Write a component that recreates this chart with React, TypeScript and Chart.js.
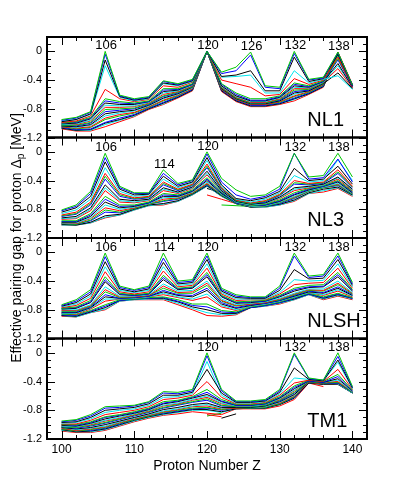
import React, { useEffect, useRef } from 'react';
import { Chart, registerables } from 'chart.js';
Chart.register(...registerables);

// Proton numbers (x values of every curve)
const Z = [100, 102, 104, 106, 108, 110, 112, 114, 116, 118, 120, 122, 124, 126, 128, 130, 132, 134, 136, 138, 140];

const X_TICKS = [100, 110, 120, 130, 140];
const Y_TICKS = [-1.2, -0.8, -0.4, 0];

const PANELS = ['NL1', 'NL3', 'NLSH', 'TM1'];

const NL1_MAGIC = [106, 120, 126, 132, 138];
const NL3_MAGIC = [106, 114, 120, 132, 138];
const NLSH_MAGIC = [106, 114, 120, 132, 138];
const TM1_MAGIC = [120, 132, 138];

const NL1 = [
  [-0.95, -0.92, -0.84, 0.00, -0.61, -0.66, -0.63, -0.41, -0.45, -0.39, 0.00, -0.29, -0.22, -0.01, -0.48, -0.50, 0.00, -0.39, -0.36, -0.01, -0.47],
  [-0.96, -0.93, -0.85, -0.04, -0.62, -0.67, -0.64, -0.42, -0.46, -0.40, 0.00, -0.31, -0.27, -0.05, -0.50, -0.52, -0.03, -0.40, -0.37, -0.02, -0.48],
  [-0.98, -0.95, -0.87, -0.12, -0.63, -0.68, -0.65, -0.44, -0.47, -0.41, 0.00, -0.35, -0.33, -0.27, -0.55, -0.55, -0.08, -0.42, -0.38, -0.04, -0.48],
  [-0.97, -0.95, -0.88, -0.20, -0.64, -0.69, -0.66, -0.45, -0.48, -0.42, 0.00, -0.36, -0.35, -0.33, -0.58, -0.58, -0.27, -0.44, -0.39, -0.34, -0.53],
  [-0.99, -0.97, -0.90, -0.53, -0.66, -0.70, -0.67, -0.48, -0.50, -0.43, 0.00, -0.40, -0.45, -0.50, -0.62, -0.60, -0.38, -0.46, -0.40, -0.08, -0.49],
  [-1.00, -0.98, -0.92, -0.66, -0.70, -0.72, -0.69, -0.52, -0.52, -0.45, 0.00, -0.45, -0.58, -0.66, -0.66, -0.62, -0.44, -0.48, -0.41, -0.10, -0.48],
  [-1.00, -0.99, -0.93, -0.69, -0.72, -0.73, -0.70, -0.54, -0.53, -0.46, 0.00, -0.46, -0.60, -0.68, -0.68, -0.63, -0.46, -0.49, -0.42, -0.12, -0.49],
  [-1.01, -1.00, -0.94, -0.72, -0.74, -0.74, -0.70, -0.56, -0.54, -0.46, 0.00, -0.48, -0.62, -0.69, -0.69, -0.64, -0.48, -0.50, -0.42, -0.17, -0.50],
  [-1.02, -1.01, -0.96, -0.75, -0.76, -0.76, -0.71, -0.58, -0.55, -0.47, 0.00, -0.49, -0.63, -0.70, -0.70, -0.65, -0.50, -0.51, -0.43, -0.20, -0.50],
  [-1.02, -1.02, -0.97, -0.78, -0.78, -0.77, -0.72, -0.60, -0.56, -0.48, 0.00, -0.50, -0.64, -0.71, -0.71, -0.66, -0.52, -0.52, -0.43, -0.24, -0.51],
  [-1.03, -1.03, -0.99, -0.81, -0.80, -0.79, -0.73, -0.62, -0.57, -0.49, 0.00, -0.51, -0.65, -0.72, -0.72, -0.67, -0.54, -0.53, -0.44, -0.04, -0.48],
  [-1.03, -1.04, -1.00, -0.84, -0.82, -0.80, -0.74, -0.63, -0.58, -0.49, 0.00, -0.51, -0.65, -0.72, -0.72, -0.68, -0.56, -0.54, -0.44, -0.03, -0.47],
  [-1.04, -1.05, -1.02, -0.87, -0.84, -0.82, -0.75, -0.65, -0.59, -0.50, 0.00, -0.52, -0.66, -0.73, -0.73, -0.69, -0.58, -0.55, -0.45, -0.30, -0.52],
  [-1.04, -1.06, -1.03, -0.90, -0.86, -0.83, -0.76, -0.66, -0.60, -0.51, 0.00, -0.52, -0.66, -0.73, -0.73, -0.69, -0.60, -0.55, -0.45, -0.05, -0.47],
  [-1.05, -1.07, -1.05, -0.93, -0.88, -0.85, -0.77, -0.68, -0.61, -0.52, 0.00, -0.53, -0.67, -0.74, -0.74, -0.70, -0.62, -0.56, -0.46, -0.02, -0.47],
  [-1.05, -1.08, -1.06, -0.95, -0.90, -0.86, -0.78, -0.69, -0.62, -0.52, 0.00, -0.53, -0.67, -0.74, -0.74, -0.71, -0.63, -0.57, -0.47, -0.06, -0.48],
  [-1.06, -1.09, -1.08, -0.99, -0.93, -0.88, -0.79, -0.71, -0.63, -0.53, 0.00, -0.54, -0.68, -0.75, -0.75, -0.72, -0.65, -0.58, -0.48, -0.02, -0.47],
  [-1.07, -1.10, -1.09, -1.00, -0.95, -0.89, -0.80, -0.72, -0.64, -0.54, 0.00, -0.55, -0.69, -0.76, -0.76, -0.73, -0.66, -0.59, -0.49, -0.04, -0.47],
  [-1.07, -1.10, -1.10, -1.02, -0.96, -0.90, -0.80, -0.73, -0.64, -0.54, 0.00, -0.55, -0.69, -0.76, -0.76, -0.73, -0.67, -0.59, -0.49, -0.03, -0.48],
  [-1.08, -1.11, -1.11, -1.05, -0.98, -0.91, -0.81, -0.74, -0.65, -0.55, 0.00, -0.56, -0.70, -0.77, -0.77, -0.74, -0.69, -0.60, -0.50, -0.01, -0.46],
];

const NL3 = [
  [-0.81, -0.74, -0.55, -0.02, -0.48, -0.57, -0.57, -0.25, -0.44, -0.39, 0.00, -0.37, -0.53, -0.62, -0.60, -0.48, -0.02, -0.35, -0.33, -0.02, -0.35],
  [-0.82, -0.76, -0.58, -0.08, -0.50, -0.58, -0.58, -0.30, -0.46, -0.40, -0.03, -0.42, -0.60, -0.66, -0.62, -0.52, -0.02, -0.38, -0.36, -0.10, -0.42],
  [-0.84, -0.78, -0.62, -0.14, -0.52, -0.60, -0.59, -0.34, -0.48, -0.42, -0.08, -0.46, -0.65, -0.68, -0.64, -0.55, -0.23, -0.40, -0.38, -0.20, -0.45],
  [-0.86, -0.81, -0.66, -0.22, -0.55, -0.62, -0.60, -0.38, -0.50, -0.43, -0.12, -0.48, -0.66, -0.70, -0.66, -0.57, -0.33, -0.42, -0.40, -0.11, -0.40],
  [-0.88, -0.84, -0.70, -0.30, -0.58, -0.64, -0.62, -0.42, -0.52, -0.45, -0.17, -0.50, -0.67, -0.71, -0.68, -0.59, -0.40, -0.44, -0.42, -0.25, -0.48],
  [-0.89, -0.86, -0.72, -0.34, -0.60, -0.65, -0.63, -0.44, -0.53, -0.46, -0.20, -0.51, -0.68, -0.72, -0.69, -0.60, -0.43, -0.45, -0.43, -0.28, -0.49],
  [-0.90, -0.87, -0.74, -0.38, -0.62, -0.66, -0.64, -0.46, -0.54, -0.47, -0.22, -0.52, -0.68, -0.72, -0.70, -0.61, -0.45, -0.46, -0.44, -0.30, -0.50],
  [-0.92, -0.90, -0.78, -0.46, -0.66, -0.68, -0.66, -0.50, -0.56, -0.49, -0.27, -0.54, -0.69, -0.73, -0.71, -0.63, -0.50, -0.48, -0.45, -0.35, -0.52],
  [-0.93, -0.92, -0.80, -0.50, -0.68, -0.70, -0.67, -0.52, -0.57, -0.50, -0.30, -0.55, -0.70, -0.74, -0.72, -0.64, -0.52, -0.49, -0.46, -0.36, -0.53],
  [-0.94, -0.93, -0.82, -0.54, -0.70, -0.71, -0.68, -0.54, -0.58, -0.51, -0.32, -0.55, -0.70, -0.74, -0.72, -0.65, -0.54, -0.50, -0.46, -0.38, -0.54],
  [-0.96, -0.96, -0.86, -0.62, -0.74, -0.74, -0.70, -0.58, -0.60, -0.53, -0.36, -0.56, -0.70, -0.75, -0.73, -0.67, -0.57, -0.51, -0.47, -0.40, -0.55],
  [-0.97, -0.97, -0.88, -0.66, -0.76, -0.75, -0.71, -0.60, -0.61, -0.54, -0.38, -0.57, -0.71, -0.75, -0.74, -0.68, -0.59, -0.52, -0.48, -0.41, -0.56],
  [-0.98, -0.98, -0.90, -0.70, -0.78, -0.76, -0.71, -0.62, -0.62, -0.55, -0.40, -0.58, -0.71, -0.75, -0.74, -0.69, -0.60, -0.53, -0.48, -0.42, -0.57],
  [-0.99, -0.99, -0.92, -0.74, -0.80, -0.77, -0.72, -0.64, -0.63, -0.56, -0.42, -0.59, -0.71, -0.76, -0.75, -0.70, -0.62, -0.54, -0.49, -0.44, -0.58],
  [-0.99, -1.00, -0.93, -0.78, -0.82, -0.78, -0.72, -0.66, -0.64, -0.57, -0.44, -0.59, -0.71, -0.76, -0.75, -0.70, -0.63, -0.54, -0.49, -0.45, -0.58],
  [-1.00, -1.01, -0.95, -0.81, -0.84, -0.79, -0.73, -0.68, -0.65, -0.58, -0.45, -0.60, -0.72, -0.76, -0.76, -0.71, -0.64, -0.55, -0.50, -0.46, -0.59],
  [-1.00, -1.01, -0.96, -0.84, -0.85, -0.79, -0.73, -0.69, -0.66, -0.58, -0.46, -0.60, -0.72, -0.76, -0.76, -0.72, -0.65, -0.55, -0.50, -0.47, -0.59],
  [-1.01, -1.02, -0.98, -0.89, -0.87, -0.80, -0.74, -0.72, -0.68, -0.59, -0.47, -0.61, -0.72, -0.77, -0.76, -0.73, -0.67, -0.57, -0.52, -0.49, -0.60],
  [-1.02, -1.02, -0.99, -0.91, -0.88, -0.81, -0.75, -0.73, -0.69, -0.60, -0.48, -0.62, -0.72, -0.77, -0.77, -0.74, -0.68, -0.58, -0.54, -0.50, -0.61],
  [-1.02, -1.02, -0.99, -0.92, -0.88, -0.81, -0.75, -0.74, -0.69, -0.60, -0.48, -0.62, -0.72, -0.77, -0.77, -0.74, -0.69, -0.58, -0.56, -0.51, -0.62],
];

const NLSH = [
  [-0.73, -0.66, -0.52, -0.01, -0.47, -0.52, -0.47, -0.01, -0.40, -0.38, -0.01, -0.50, -0.59, -0.62, -0.62, -0.47, -0.01, -0.33, -0.31, -0.01, -0.42],
  [-0.74, -0.68, -0.55, -0.06, -0.49, -0.53, -0.49, -0.08, -0.42, -0.40, -0.05, -0.52, -0.61, -0.63, -0.63, -0.50, -0.05, -0.35, -0.33, -0.05, -0.44],
  [-0.75, -0.70, -0.58, -0.13, -0.51, -0.55, -0.51, -0.14, -0.44, -0.42, -0.10, -0.54, -0.63, -0.64, -0.64, -0.53, -0.24, -0.37, -0.36, -0.10, -0.46],
  [-0.76, -0.72, -0.61, -0.20, -0.53, -0.56, -0.53, -0.20, -0.46, -0.44, -0.16, -0.56, -0.65, -0.65, -0.65, -0.56, -0.38, -0.40, -0.39, -0.16, -0.48],
  [-0.77, -0.74, -0.64, -0.27, -0.55, -0.58, -0.55, -0.26, -0.48, -0.46, -0.22, -0.58, -0.67, -0.66, -0.66, -0.58, -0.45, -0.43, -0.42, -0.22, -0.50],
  [-0.78, -0.76, -0.67, -0.34, -0.57, -0.59, -0.57, -0.32, -0.50, -0.48, -0.28, -0.60, -0.69, -0.68, -0.67, -0.60, -0.50, -0.46, -0.45, -0.28, -0.52],
  [-0.78, -0.77, -0.69, -0.38, -0.58, -0.60, -0.58, -0.35, -0.51, -0.49, -0.31, -0.61, -0.70, -0.69, -0.68, -0.61, -0.52, -0.48, -0.47, -0.31, -0.53],
  [-0.79, -0.78, -0.70, -0.41, -0.59, -0.60, -0.58, -0.38, -0.52, -0.50, -0.34, -0.62, -0.71, -0.70, -0.68, -0.62, -0.54, -0.49, -0.48, -0.34, -0.54],
  [-0.80, -0.80, -0.73, -0.48, -0.61, -0.61, -0.59, -0.44, -0.54, -0.53, -0.40, -0.65, -0.73, -0.71, -0.69, -0.64, -0.57, -0.51, -0.51, -0.40, -0.56],
  [-0.81, -0.81, -0.74, -0.52, -0.62, -0.62, -0.60, -0.47, -0.56, -0.55, -0.43, -0.67, -0.74, -0.72, -0.70, -0.65, -0.58, -0.52, -0.53, -0.43, -0.57],
  [-0.82, -0.82, -0.75, -0.55, -0.63, -0.62, -0.60, -0.50, -0.57, -0.57, -0.46, -0.68, -0.75, -0.72, -0.70, -0.66, -0.59, -0.53, -0.54, -0.45, -0.58],
  [-0.83, -0.83, -0.76, -0.59, -0.64, -0.63, -0.61, -0.53, -0.59, -0.60, -0.50, -0.70, -0.77, -0.73, -0.71, -0.67, -0.60, -0.54, -0.56, -0.48, -0.59],
  [-0.84, -0.84, -0.77, -0.62, -0.64, -0.63, -0.61, -0.55, -0.60, -0.62, -0.53, -0.72, -0.78, -0.74, -0.71, -0.67, -0.61, -0.55, -0.57, -0.50, -0.60],
  [-0.85, -0.85, -0.78, -0.65, -0.65, -0.64, -0.62, -0.57, -0.62, -0.65, -0.58, -0.74, -0.80, -0.75, -0.72, -0.68, -0.62, -0.56, -0.59, -0.52, -0.61],
  [-0.85, -0.86, -0.79, -0.68, -0.65, -0.64, -0.62, -0.59, -0.63, -0.67, -0.62, -0.76, -0.81, -0.75, -0.72, -0.68, -0.62, -0.56, -0.60, -0.54, -0.62],
  [-0.86, -0.87, -0.81, -0.73, -0.66, -0.65, -0.63, -0.62, -0.66, -0.72, -0.72, -0.81, -0.83, -0.76, -0.73, -0.69, -0.63, -0.57, -0.62, -0.57, -0.63],
  [-0.87, -0.88, -0.82, -0.75, -0.67, -0.65, -0.64, -0.63, -0.68, -0.74, -0.76, -0.83, -0.84, -0.77, -0.74, -0.70, -0.64, -0.58, -0.63, -0.58, -0.64],
  [-0.88, -0.89, -0.83, -0.77, -0.67, -0.65, -0.64, -0.64, -0.69, -0.76, -0.80, -0.85, -0.85, -0.77, -0.74, -0.70, -0.65, -0.58, -0.64, -0.59, -0.64],
  [-0.88, -0.90, -0.84, -0.79, -0.68, -0.66, -0.65, -0.65, -0.71, -0.78, -0.84, -0.87, -0.86, -0.77, -0.75, -0.71, -0.66, -0.59, -0.65, -0.60, -0.65],
  [-0.89, -0.90, -0.84, -0.80, -0.68, -0.66, -0.66, -0.66, -0.73, -0.80, -0.88, -0.89, -0.87, -0.77, -0.75, -0.72, -0.66, -0.59, -0.66, -0.61, -0.66],
];

const TM1 = [
  [-0.95, -0.93, -0.86, -0.75, -0.74, -0.73, -0.68, -0.54, -0.55, -0.51, 0.00, -0.51, -0.67, -0.67, -0.65, -0.51, 0.00, -0.35, -0.38, 0.00, -0.47],
  [-0.96, -0.94, -0.88, -0.77, -0.76, -0.74, -0.69, -0.56, -0.57, -0.53, -0.04, -0.53, -0.68, -0.68, -0.66, -0.53, -0.02, -0.36, -0.38, -0.05, -0.48],
  [-0.97, -0.96, -0.90, -0.80, -0.78, -0.76, -0.71, -0.59, -0.59, -0.55, -0.23, -0.56, -0.69, -0.69, -0.67, -0.55, -0.21, -0.37, -0.39, -0.10, -0.49],
  [-0.98, -0.97, -0.92, -0.83, -0.80, -0.78, -0.73, -0.62, -0.61, -0.57, -0.12, -0.59, -0.70, -0.70, -0.68, -0.57, -0.35, -0.37, -0.39, -0.13, -0.50],
  [-0.99, -0.99, -0.94, -0.86, -0.83, -0.80, -0.75, -0.65, -0.63, -0.59, -0.40, -0.62, -0.71, -0.71, -0.69, -0.59, -0.42, -0.38, -0.40, -0.23, -0.51],
  [-1.00, -1.00, -0.96, -0.89, -0.86, -0.82, -0.77, -0.68, -0.66, -0.61, -0.51, -0.65, -0.72, -0.72, -0.70, -0.61, -0.46, -0.38, -0.40, -0.30, -0.52],
  [-1.00, -1.01, -0.97, -0.90, -0.87, -0.83, -0.78, -0.70, -0.67, -0.62, -0.55, -0.67, -0.73, -0.73, -0.71, -0.62, -0.48, -0.39, -0.41, -0.33, -0.53],
  [-1.01, -1.02, -0.98, -0.92, -0.88, -0.84, -0.79, -0.71, -0.68, -0.63, -0.58, -0.68, -0.73, -0.73, -0.71, -0.63, -0.50, -0.39, -0.41, -0.36, -0.53],
  [-1.02, -1.03, -0.99, -0.94, -0.90, -0.85, -0.80, -0.73, -0.70, -0.65, -0.60, -0.70, -0.74, -0.74, -0.72, -0.64, -0.52, -0.39, -0.41, -0.38, -0.54],
  [-1.02, -1.03, -1.00, -0.95, -0.91, -0.86, -0.81, -0.74, -0.71, -0.66, -0.62, -0.71, -0.74, -0.74, -0.72, -0.65, -0.53, -0.39, -0.41, -0.40, -0.54],
  [-1.03, -1.04, -1.01, -0.97, -0.92, -0.87, -0.82, -0.76, -0.72, -0.68, -0.64, -0.73, -0.75, -0.75, -0.73, -0.66, -0.55, -0.40, -0.42, -0.41, -0.55],
  [-1.03, -1.05, -1.02, -0.98, -0.93, -0.88, -0.83, -0.77, -0.73, -0.69, -0.66, -0.74, -0.75, -0.75, -0.73, -0.67, -0.56, -0.40, -0.42, -0.42, -0.55],
  [-1.04, -1.06, -1.04, -1.00, -0.95, -0.90, -0.85, -0.79, -0.76, -0.72, -0.70, -0.76, -0.76, -0.76, -0.74, -0.68, -0.58, -0.40, -0.42, -0.42, -0.55],
  [-1.04, -1.07, -1.05, -1.02, -0.96, -0.91, -0.86, -0.81, -0.78, -0.74, -0.72, -0.77, -0.76, -0.76, -0.75, -0.69, -0.59, -0.40, -0.42, -0.43, -0.56],
  [-1.05, -1.08, -1.06, -1.03, -0.97, -0.92, -0.87, -0.82, -0.79, -0.75, -0.74, -0.78, -0.77, -0.76, -0.75, -0.70, -0.60, -0.41, -0.43, -0.43, -0.56],
  [-1.06, -1.09, -1.07, -1.04, -0.98, -0.93, -0.88, -0.83, -0.80, -0.77, -0.76, -0.79, -0.77, -0.77, -0.76, -0.71, -0.61, -0.41, -0.43, -0.43, -0.56],
  [-1.06, -1.09, -1.08, -1.05, -0.99, -0.93, -0.88, -0.84, -0.81, -0.78, -0.77, -0.80, -0.77, -0.77, -0.76, -0.71, -0.62, -0.41, -0.43, -0.43, -0.56],
  [-1.07, -1.10, -1.09, -1.06, -1.00, -0.94, -0.89, -0.85, -0.82, -0.79, -0.79, -0.82, -0.78, -0.77, -0.77, -0.72, -0.63, -0.42, -0.44, -0.44, -0.56],
  [-1.08, -1.10, -1.10, -1.07, -1.01, -0.95, -0.90, -0.86, -0.83, -0.80, -0.80, -0.83, -0.78, -0.77, -0.77, -0.72, -0.63, -0.42, -0.44, null, null],
  [-1.09, -1.11, -1.11, -1.08, -1.02, -0.96, -0.91, -0.87, -0.85, -0.82, -0.84, -0.86, -0.78, -0.78, -0.78, -0.74, -0.65, -0.42, -0.47, null, null],
];

// short chains that only exist over part of the Z range
const NL3_SHORT_Z = [[120, 122, 124, 126], [120, 122, 124], [122, 124, 126, 128]];
const NL3_SHORT = [[-0.60, -0.66, -0.72, -0.75], [-0.51, -0.57, -0.68], [-0.74, -0.75, -0.76, -0.76]];
const TM1_SHORT_Z = [[120, 122], [122, 124], [120, 122]];
const TM1_SHORT = [[-0.86, -0.89], [-0.91, -0.85], [-0.88, -0.84]];

const COLORS = ['#00c800', '#0000ff', '#000000', '#00e6ee', '#ff0000'];
const SHORT_COLORS = ['#ff0000', '#000000', '#00c800'];

const PANEL_DATA = [NL1, NL3, NLSH, TM1];
const PANEL_MAGIC = [NL1_MAGIC, NL3_MAGIC, NLSH_MAGIC, TM1_MAGIC];
const PANEL_SHORT_Z = [[], NL3_SHORT_Z, [], TM1_SHORT_Z];
const PANEL_SHORT = [[], NL3_SHORT, [], TM1_SHORT];

const FONT = '"Liberation Sans", Arial, Helvetica, sans-serif';

function buildDatasets() {
  const sets: any[] = [];
  PANELS.forEach((name, p) => {
    const id = 'y' + p;
    PANEL_DATA[p].forEach((row, i) => {
      sets.push({
        label: name + ' ' + i,
        data: Z.map((z, k) => ({ x: z, y: row[k] })),
        yAxisID: id,
        xAxisID: 'x',
        borderColor: COLORS[i % COLORS.length],
        borderWidth: 1,
        pointRadius: 0,
        fill: false,
        tension: 0,
        spanGaps: false,
      });
    });
    PANEL_SHORT[p].forEach((vals, i) => {
      const zs = PANEL_SHORT_Z[p][i];
      sets.push({
        label: name + ' short ' + i,
        data: zs.map((z, k) => ({ x: z, y: vals[k] })),
        yAxisID: id,
        xAxisID: 'x',
        borderColor: SHORT_COLORS[i % SHORT_COLORS.length],
        borderWidth: 1,
        pointRadius: 0,
        fill: false,
        tension: 0,
      });
    });
  });
  return sets;
}

const framePlugin = {
  id: 'frames',
  afterDatasetsDraw(chart: any) {
    const ctx = chart.ctx;
    const xs = chart.scales.x;
    const area = chart.chartArea;
    ctx.save();
    PANELS.forEach((name, p) => {
      const ys = chart.scales['y' + p];
      const top = ys.top;
      const bottom = ys.bottom;
      // tick marks (inward)
      ctx.strokeStyle = '#000';
      ctx.lineWidth = 1;
      ctx.beginPath();
      for (let z = X_TICKS[0]; z <= X_TICKS[X_TICKS.length - 1]; z += 2) {
        const px = Math.round(xs.getPixelForValue(z)) + 0.5;
        const len = X_TICKS.includes(z) ? 8 : 4;
        ctx.moveTo(px, top);
        ctx.lineTo(px, top + len);
        ctx.moveTo(px, bottom);
        ctx.lineTo(px, bottom - len);
      }
      for (let k = -12; k <= 2; k++) {
        const py = Math.round(ys.getPixelForValue(k / 10)) + 0.5;
        const len = k % 4 === 0 ? 8 : 4;
        ctx.moveTo(area.left, py);
        ctx.lineTo(area.left + len, py);
        ctx.moveTo(area.right, py);
        ctx.lineTo(area.right - len, py);
      }
      ctx.stroke();
      // frame
      ctx.lineWidth = 2;
      ctx.strokeRect(area.left, top, area.right - area.left, bottom - top);

      // magic-number labels above peaks
      ctx.fillStyle = '#000';
      ctx.font = '13px ' + FONT;
      ctx.textAlign = 'center';
      ctx.textBaseline = 'alphabetic';
      PANEL_MAGIC[p].forEach((m) => {
        const k = Z.indexOf(m);
        let peak = -Infinity;
        PANEL_DATA[p].forEach((row) => {
          if (row[k] !== null && row[k] > peak) peak = row[k];
        });
        const px = xs.getPixelForValue(m) + 1;
        const py = ys.getPixelForValue(peak) - 2;
        ctx.fillText(String(m), px, py);
      });

      // panel name
      ctx.font = '20px ' + FONT;
      ctx.textAlign = 'left';
      ctx.fillText(name, xs.getPixelForValue(133.8), bottom - 12);
    });

    // axis titles
    ctx.fillStyle = '#000';
    ctx.textBaseline = 'middle';
    ctx.textAlign = 'center';
    ctx.font = '14px ' + FONT;
    ctx.fillText('Proton Number Z', (area.left + area.right) / 2, 458);

    const main = 'Effective pairing gap for proton \u0394';
    const sub = 'p';
    const tail = ' [MeV]';
    ctx.font = '14px ' + FONT;
    const w1 = ctx.measureText(main).width;
    const w3 = ctx.measureText(tail).width;
    ctx.font = '10px ' + FONT;
    const w2 = ctx.measureText(sub).width;
    const total = w1 + w2 + w3;
    ctx.translate(8, (area.top + area.bottom) / 2);
    ctx.rotate(-Math.PI / 2);
    ctx.textAlign = 'left';
    ctx.textBaseline = 'alphabetic';
    let cx = -total / 2;
    ctx.font = '14px ' + FONT;
    ctx.fillText(main, cx, 5);
    cx += w1;
    ctx.font = '10px ' + FONT;
    ctx.fillText(sub, cx, 8);
    cx += w2;
    ctx.font = '14px ' + FONT;
    ctx.fillText(tail, cx, 5);
    ctx.restore();
  },
};

function yScale(p: number) {
  return {
    type: 'linear',
    position: 'left',
    stack: 'panels',
    stackWeight: 1,
    min: -1.2,
    max: 0.2,
    grid: { display: false, drawTicks: false },
    border: { display: false },
    afterBuildTicks: (s: any) => {
      s.ticks = Y_TICKS.map((v) => ({ value: v }));
    },
    afterFit: (s: any) => {
      s.width = 39;
    },
    ticks: {
      autoSkip: false,
      padding: 5,
      color: '#000',
      font: { size: 11, family: FONT },
      callback: (v: number) => (Math.abs(v) < 1e-9 ? '0' : v.toFixed(1)),
    },
  };
}

export default function App() {
  const ref = useRef<HTMLCanvasElement>(null);
  useEffect(() => {
    if (!ref.current) return;
    const scales: any = {
      x: {
        type: 'linear',
        position: 'bottom',
        min: 98,
        max: 142,
        grid: { display: false, drawTicks: false },
        border: { display: false },
        afterBuildTicks: (s: any) => {
          s.ticks = X_TICKS.map((v) => ({ value: v }));
        },
        afterFit: (s: any) => {
          s.height = 55;
        },
        ticks: {
          autoSkip: false,
          maxRotation: 0,
          padding: 3,
          color: '#000',
          font: { size: 12, family: FONT },
        },
      },
    };
    // bottom panel first so the stack places NL1 on top
    for (let p = PANELS.length - 1; p >= 0; p--) scales['y' + p] = yScale(p);

    const chart = new Chart(ref.current, {
      type: 'line',
      data: { datasets: buildDatasets() },
      options: {
        responsive: false,
        animation: false,
        events: [],
        layout: { padding: { top: 29, right: 34, left: 0, bottom: 0 } },
        plugins: { legend: { display: false }, tooltip: { enabled: false } },
        scales,
      },
      plugins: [framePlugin],
    } as any);
    return () => chart.destroy();
  }, []);
  return (
    <div style={{ width: 393, height: 486 }}>
      <canvas ref={ref} width={393} height={486} style={{ display: 'block' }} />
    </div>
  );
}
